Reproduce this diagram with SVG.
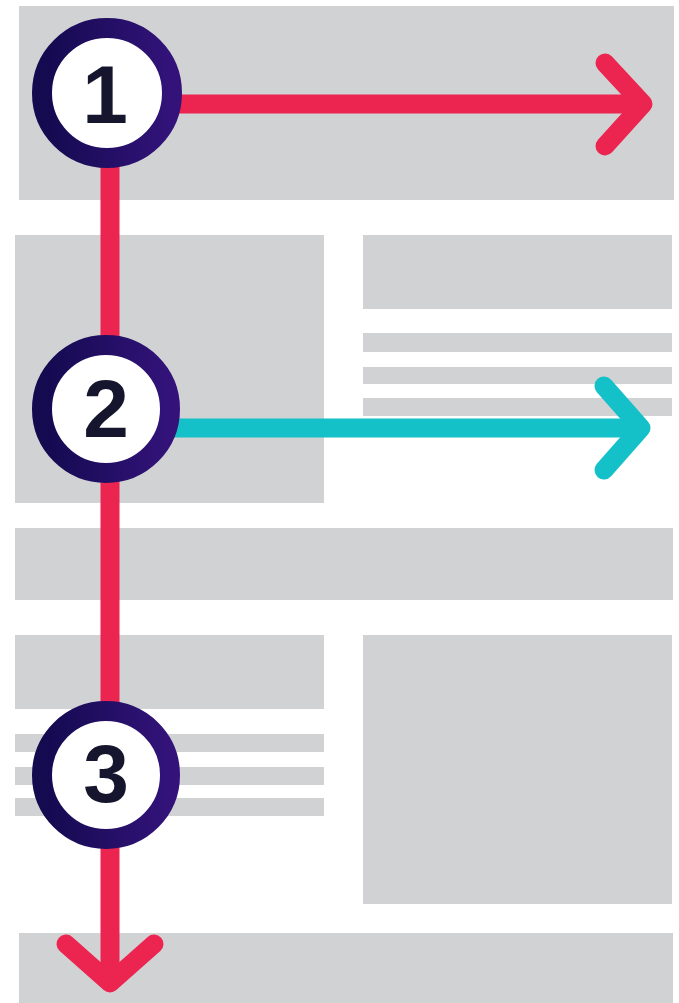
<svg xmlns="http://www.w3.org/2000/svg" width="679" height="1003" viewBox="0 0 679 1003">
  <defs>
    <style>
      .blk { fill: #d1d2d4; }
      .red { stroke: #ec2450; stroke-width: 19; fill: none; stroke-linecap: round; stroke-linejoin: round; }
      .cyan { stroke: #15c1c9; stroke-width: 19; fill: none; stroke-linecap: round; stroke-linejoin: round; }
      .ring { fill: #ffffff; stroke: url(#ringGrad); stroke-width: 20; }
      .num { font-family: "Liberation Sans", Arial, sans-serif; font-weight: bold; font-size: 82px; fill: #16152e; text-anchor: middle; }
    </style>
    <linearGradient id="ringGrad" x1="0" y1="0" x2="1" y2="0">
      <stop offset="0" stop-color="#130a4f"/>
      <stop offset="1" stop-color="#33137a"/>
    </linearGradient>
  </defs>
  <rect width="679" height="1003" fill="#ffffff"/>
  <g id="layout">
    <rect class="blk" x="19" y="6" width="655" height="194"/>
    <rect class="blk" x="15" y="235" width="309" height="268"/>
    <rect class="blk" x="363" y="235" width="309" height="74"/>
    <rect class="blk" x="363" y="333" width="309" height="19"/>
    <rect class="blk" x="363" y="367" width="309" height="17"/>
    <rect class="blk" x="363" y="398" width="309" height="18"/>
    <rect class="blk" x="15" y="528" width="658" height="72"/>
    <rect class="blk" x="15" y="635" width="309" height="74"/>
    <rect class="blk" x="363" y="635" width="309" height="269"/>
    <rect class="blk" x="15" y="734" width="309" height="18"/>
    <rect class="blk" x="15" y="767" width="309" height="18"/>
    <rect class="blk" x="15" y="798" width="309" height="18"/>
    <rect class="blk" x="19" y="933" width="654" height="70"/>
  </g>
  <g id="connectors">
    <line class="red" x1="110" y1="93" x2="110" y2="982"/>
    <polyline class="red" points="66,944 110,983 154,944"/>
    <line class="red" x1="107" y1="104" x2="641" y2="104" style="stroke-linecap:butt"/>
    <polyline class="red" points="605,63 643,104 605,146"/>
    <line class="cyan" x1="106" y1="428" x2="640" y2="428" style="stroke-linecap:butt"/>
    <polyline class="cyan" points="604,386 641,428 604,470"/>
  </g>
  <g id="node1">
    <circle class="ring" cx="107" cy="93" r="65"/>
    <text class="num" x="105" y="123">1</text>
  </g>
  <g id="node2">
    <circle class="ring" cx="106" cy="409" r="64"/>
    <text class="num" x="106" y="437">2</text>
  </g>
  <g id="node3">
    <circle class="ring" cx="106" cy="775" r="64"/>
    <text class="num" x="106" y="802">3</text>
  </g>
</svg>
